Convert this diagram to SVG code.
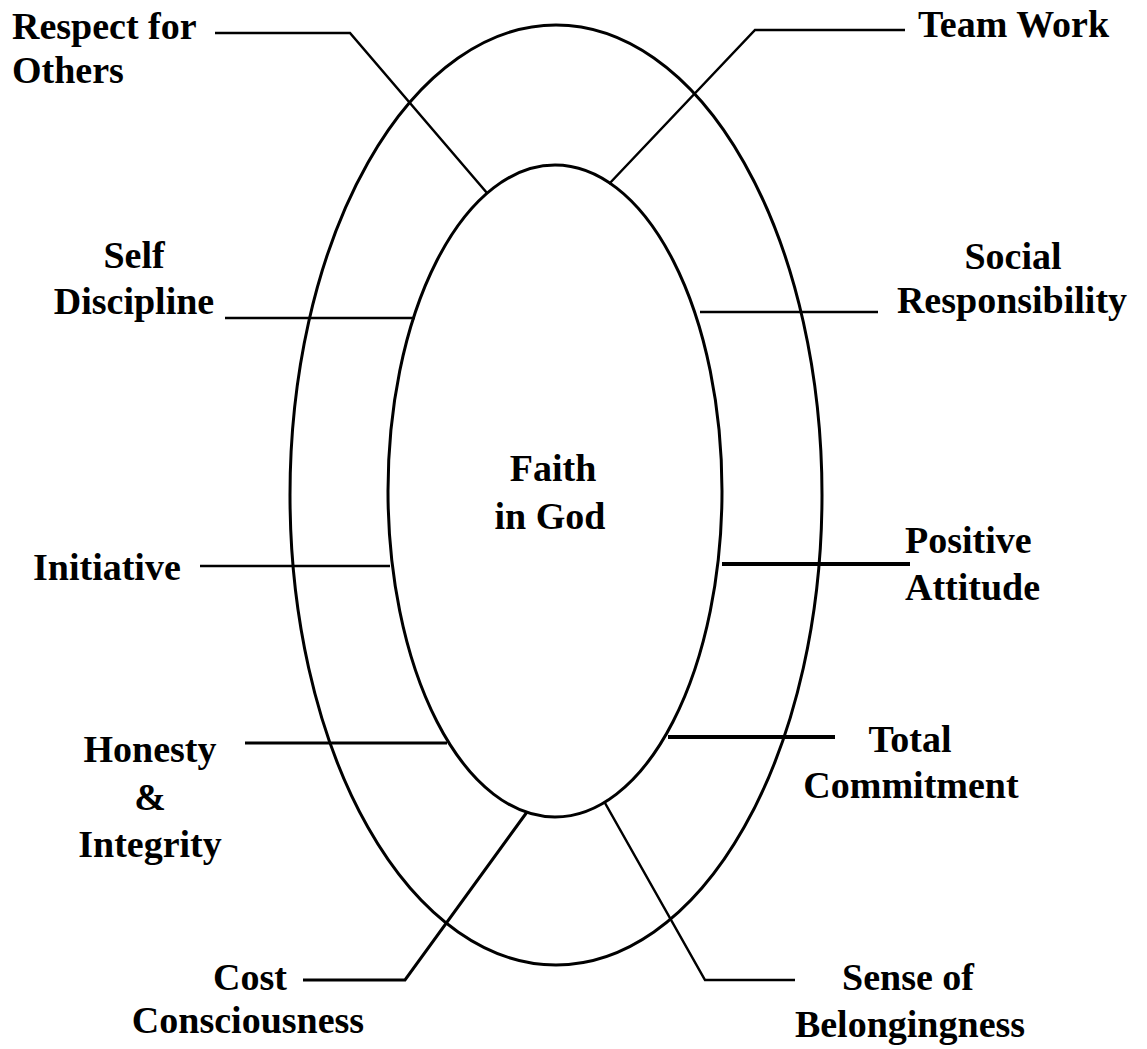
<svg xmlns="http://www.w3.org/2000/svg" width="1147" height="1049" viewBox="0 0 1147 1049">
<style>
.lbl{font-family:"Liberation Serif","Times New Roman",serif;font-weight:bold;font-size:38px;fill:#000}
.c{text-anchor:middle}
.ring{fill:none;stroke:#000;stroke-width:3}
.ld{fill:none;stroke:#000;stroke-width:2.5;stroke-linejoin:miter}
.thick{stroke-width:4}
</style>
<rect width="1147" height="1049" fill="#fff"/>
<g id="outer"><ellipse class="ring" cx="556" cy="495" rx="266" ry="470"/></g>
<g id="inner"><ellipse class="ring" cx="555" cy="491" rx="167" ry="326"/></g>
<g id="connectors">
<polyline class="ld" points="215,33 350,33 487,193"/>
<polyline class="ld" points="905,30 755,30 609,184"/>
<polyline class="ld" points="225,318 415,318"/>
<polyline class="ld" points="700,312 878,312"/>
<polyline class="ld" points="200,566 390,566"/>
<polyline class="ld thick" points="722,564 910,564"/>
<polyline class="ld" points="245,743 447,743" style="stroke-width:3"/>
<polyline class="ld thick" points="668,737 835,737"/>
<polyline class="ld" points="303,980 405,980 527,812" style="stroke-width:3"/>
<polyline class="ld" points="605,803 705,980 795,980"/>
</g>
<g id="center"><text class="lbl c" x="553" y="481">Faith</text><text class="lbl c" x="550" y="529">in God</text></g>
<g id="respect"><text class="lbl" x="12" y="39">Respect for</text><text class="lbl" x="12" y="83">Others</text></g>
<g id="teamwork"><text class="lbl" x="918" y="37">Team Work</text></g>
<g id="selfdiscipline"><text class="lbl c" x="134" y="268">Self</text><text class="lbl c" x="134" y="314">Discipline</text></g>
<g id="social"><text class="lbl c" x="1013" y="269">Social</text><text class="lbl c" x="1012" y="313">Responsibility</text></g>
<g id="initiative"><text class="lbl" x="33" y="580">Initiative</text></g>
<g id="positive"><text class="lbl" x="905" y="553">Positive</text><text class="lbl" x="905" y="600">Attitude</text></g>
<g id="honesty"><text class="lbl c" x="150" y="762">Honesty</text><text class="lbl c" x="150" y="810">&amp;</text><text class="lbl c" x="150" y="857">Integrity</text></g>
<g id="total"><text class="lbl c" x="910" y="752">Total</text><text class="lbl c" x="911" y="798">Commitment</text></g>
<g id="cost"><text class="lbl c" x="250" y="990">Cost</text><text class="lbl c" x="248" y="1033">Consciousness</text></g>
<g id="sense"><text class="lbl c" x="908" y="990">Sense of</text><text class="lbl c" x="910" y="1037">Belongingness</text></g>
</svg>
